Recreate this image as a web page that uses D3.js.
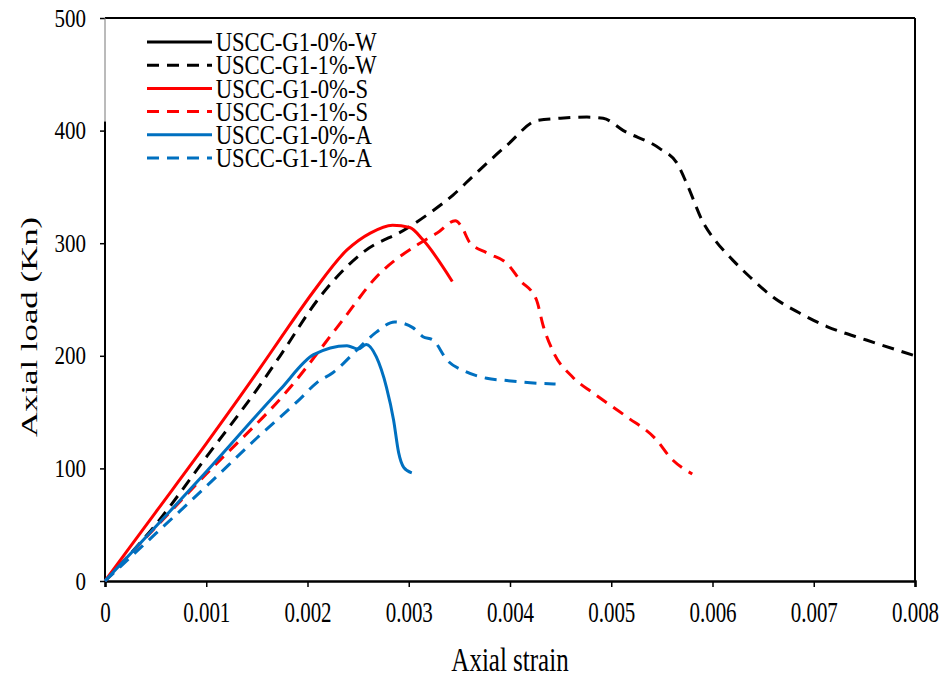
<!DOCTYPE html>
<html>
<head>
<meta charset="utf-8">
<script src="https://cdn.jsdelivr.net/npm/d3@7"></script>
<style>
body { margin: 0; background: #fff; }
text { font-family: "Liberation Serif", "Times New Roman", serif; }
</style>
</head>
<body>
<div id="grafico"></div>
<script>
// dados (deformacao axial, carga em kN)
var serieNomes = ["USCC-G1-0%-W", "USCC-G1-1%-W", "USCC-G1-0%-S", "USCC-G1-1%-S", "USCC-G1-0%-A", "USCC-G1-1%-A"];

var w1Strain = [0, 0.0005, 0.001, 0.0015, 0.00173, 0.00212, 0.00255, 0.00298, 0.00321, 0.00344, 0.00364, 0.00397, 0.00427, 0.0045, 0.00476, 0.00492, 0.00512, 0.00548, 0.00565, 0.00575, 0.00591, 0.00604, 0.0062, 0.00637, 0.0066, 0.00686, 0.00713, 0.00752, 0.008];
var w1Load   = [0, 50, 110, 170, 200, 252, 292, 313, 327, 343, 360, 387, 409, 411, 412, 411, 400, 384, 371, 352, 318, 301, 285, 270, 252, 238, 226, 214, 200];

var s0Strain = [0, 0.0005, 0.001, 0.0015, 0.00173, 0.00205, 0.00239, 0.00262, 0.00284, 0.00301, 0.00314, 0.00343];
var s0Load   = [0, 61, 122, 185, 215, 256, 294, 309, 316, 314, 303, 266];

var s1Strain = [0, 0.001, 0.00183, 0.00235, 0.00268, 0.00311, 0.00328, 0.00346, 0.00352, 0.0036, 0.00378, 0.00397, 0.0041, 0.00426, 0.00433, 0.00443, 0.00462, 0.00482, 0.00515, 0.00545, 0.00558, 0.0058];
var s1Load   = [0, 95, 172, 232, 270, 300, 309, 320, 315, 301, 291, 282, 267, 250, 226, 203, 181, 167, 146, 125, 110, 95];

var a0Strain = [0, 0.001, 0.00173, 0.00206, 0.00239, 0.0025, 0.00258, 0.00268, 0.00278, 0.00285, 0.0029, 0.00295, 0.00303];
var a0Load   = [0, 97, 170, 201, 209, 206, 210, 199, 172, 143, 114, 101, 96];

var a1Strain = [0, 0.0005, 0.001, 0.0015, 0.00193, 0.00209, 0.00225, 0.00252, 0.00268, 0.00286, 0.00304, 0.00314, 0.00324, 0.00338, 0.00356, 0.00377, 0.00397, 0.0042, 0.00445];
var a1Load   = [0, 42, 84, 127, 162, 176, 185, 208, 221, 230, 225, 217, 214, 196, 186, 180, 178, 176, 175];

var xTicks = [0, 0.001, 0.002, 0.003, 0.004, 0.005, 0.006, 0.007, 0.008];
var yTicks = [0, 100, 200, 300, 400, 500];

var width = 946;
var height = 680;
var margem = {top: 18, right: 31, bottom: 99, left: 105};

function junta(xs, ys){
	return xs.map(function(d, i){ return {x: d, y: ys[i]}; });
}

// a figura original esta esticada na vertical, entao o texto tambem
function esticar(sel, sx, sy){
	sel.each(function(){
		var b = this.getBBox();
		var cx = b.x + b.width / 2;
		var cy = b.y + b.height / 2;
		var t = d3.select(this).attr("transform") || "";
		d3.select(this).attr("transform",
			t + " matrix(" + sx + " 0 0 " + sy + " " + (cx * (1 - sx)) + " " + (cy * (1 - sy)) + ")");
	});
}

// a serie 0%-W nao aparece no grafico, so na legenda
var series = [
	{nome: serieNomes[0], cor: "#000000", tracejado: false, pontos: []},
	{nome: serieNomes[1], cor: "#000000", tracejado: true, pontos: junta(w1Strain, w1Load)},
	{nome: serieNomes[2], cor: "#ff0000", tracejado: false, pontos: junta(s0Strain, s0Load)},
	{nome: serieNomes[3], cor: "#ff0000", tracejado: true, pontos: junta(s1Strain, s1Load)},
	{nome: serieNomes[4], cor: "#0070c0", tracejado: false, pontos: junta(a0Strain, a0Load)},
	{nome: serieNomes[5], cor: "#0070c0", tracejado: true, pontos: junta(a1Strain, a1Load)}
];

var svg = d3.select("#grafico").append("svg")
	.attr("width", width)
	.attr("height", height);

var x = d3.scaleLinear().domain([0, 0.008]).range([margem.left, width - margem.right]);
var y = d3.scaleLinear().domain([0, 500]).range([height - margem.bottom, margem.top]);

// moldura
svg.append("line")
	.attr("x1", x(0)).attr("x2", x(0.008))
	.attr("y1", y(500)).attr("y2", y(500))
	.style("stroke", "#000").style("stroke-width", 2);
svg.append("line")
	.attr("x1", x(0.008)).attr("x2", x(0.008))
	.attr("y1", y(500)).attr("y2", y(0))
	.style("stroke", "#000").style("stroke-width", 2);

var eixoY = svg.append("g")
	.attr("transform", "translate(" + x(0) + ",0)")
	.call(d3.axisLeft(y).tickValues(yTicks).tickSize(5).tickPadding(14).tickFormat(d3.format("d")));
eixoY.select(".domain").remove();
eixoY.selectAll("line").style("stroke", "#000").style("stroke-width", 1.5);
eixoY.selectAll("text").attr("font-size", "21px").attr("fill", "#000")
	.style("font-family", "Liberation Serif");

// linha do eixo y (parte de cima clara, atras da legenda)
svg.append("line")
	.attr("x1", x(0)).attr("x2", x(0))
	.attr("y1", y(500)).attr("y2", y(408))
	.style("stroke", "#777").style("stroke-width", 1);
svg.append("line")
	.attr("x1", x(0)).attr("x2", x(0))
	.attr("y1", y(408)).attr("y2", y(0))
	.style("stroke", "#000").style("stroke-width", 2);

var eixoX = svg.append("g")
	.attr("transform", "translate(0," + y(0) + ")")
	.call(d3.axisBottom(x).tickValues(xTicks).tickSize(6).tickPadding(17)
		.tickFormat(function(d){ return d === 0 ? "0" : d3.format(".3f")(d); }));
eixoX.select(".domain").style("stroke", "#000").style("stroke-width", 2.5);
eixoX.selectAll("line").style("stroke", "#000").style("stroke-width", 1.5);
eixoX.selectAll("text").attr("font-size", "21px").attr("fill", "#000")
	.style("font-family", "Liberation Serif");

var tituloX = svg.append("text")
	.attr("x", (x(0) + x(0.008)) / 2)
	.attr("y", 668)
	.attr("text-anchor", "middle")
	.attr("font-size", "25px")
	.text("Axial strain");

var tituloY = svg.append("text")
	.attr("x", -327)
	.attr("y", 37)
	.attr("transform", "rotate(-90)")
	.attr("text-anchor", "middle")
	.attr("font-size", "24px")
	.text("Axial load (Kn)");

var linha = d3.line()
	.x(function(d){ return x(d.x); })
	.y(function(d){ return y(d.y); })
	.curve(d3.curveMonotoneX);

svg.selectAll("path.curva")
	.data(series.filter(function(s){ return s.pontos.length > 0; }))
	.enter()
	.append("path")
	.attr("class", "curva")
	.attr("d", function(s){ return linha(s.pontos); })
	.style("fill", "none")
	.style("stroke", function(s){ return s.cor; })
	.style("stroke-width", 3)
	.style("stroke-dasharray", function(s){ return s.tracejado ? "12,8" : null; });

// legenda
var legenda = svg.selectAll("g.legenda")
	.data(series)
	.enter()
	.append("g")
	.attr("class", "legenda")
	.attr("transform", function(d, i){ return "translate(147," + (42 + i * 23.2) + ")"; });

legenda.append("line")
	.attr("x1", 0).attr("x2", 65)
	.attr("y1", 0).attr("y2", 0)
	.style("stroke", function(d){ return d.cor; })
	.style("stroke-width", 3)
	.style("stroke-dasharray", function(d){ return d.tracejado ? "12,8" : null; });

var legTexto = legenda.append("text")
	.attr("x", 71)
	.attr("y", 0)
	.attr("dy", "0.35em")
	.attr("font-size", "22px")
	.attr("fill", "#000")
	.text(function(d){ return d.nome; });

esticar(legTexto, 1.03, 1.2);
esticar(eixoY.selectAll("text"), 1, 1.2);
esticar(eixoX.selectAll("text"), 1, 1.4);
esticar(tituloX, 1, 1.35);
// rotacionado: o comprimento fica na vertical
esticar(tituloY, 1.45, 1.0);
</script>
</body>
</html>
